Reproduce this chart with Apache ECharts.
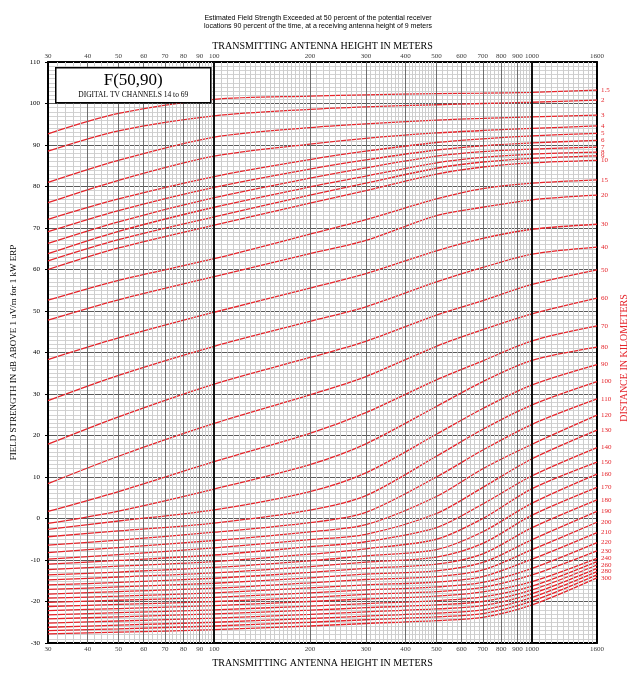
<!DOCTYPE html>
<html>
<head>
<meta charset="utf-8">
<script src="https://cdn.jsdelivr.net/npm/echarts@6.0.0/dist/echarts.min.js"></script>
<style>
  html, body { margin: 0; padding: 0; background: #fff; }
  #chart { width: 636px; height: 673px; }
</style>
</head>
<body>
<div id="chart"></div>
<script>
// antenna heights (m) where the curves were read
var heights = [30, 50, 100, 200, 300, 500, 700, 1000, 1600];
var xTickLabels = [30, 40, 50, 60, 70, 80, 90, 100, 200, 300, 400, 500, 600, 700, 800, 900, 1000, 1600];

// field strength (dB) per distance curve, one value per height
var km1_5 = [92.7, 97.6, 101.0, 101.8, 102.1, 102.4, 102.5, 102.7, 103.2];
var km2   = [88.5, 93.4, 97.0, 98.6, 99.2, 99.7, 100.0, 100.3, 100.8];
var km3   = [81.0, 86.3, 91.9, 94.2, 95.1, 96.0, 96.4, 96.8, 97.2];
var km4   = [76.1, 81.5, 87.3, 90.2, 91.6, 92.9, 93.5, 94.0, 94.6];
var km5   = [72.1, 77.0, 82.4, 86.5, 88.5, 90.6, 91.5, 92.2, 92.8];
var km6   = [69.1, 74.2, 79.8, 84.2, 86.4, 88.8, 89.8, 90.5, 91.1];
var km7   = [66.3, 71.5, 77.3, 82.0, 84.5, 87.3, 88.4, 89.0, 89.5];
var km8   = [63.8, 69.2, 75.0, 79.9, 82.5, 85.7, 87.0, 87.8, 88.3];
var km9   = [62.1, 67.2, 72.7, 77.9, 80.8, 84.4, 85.9, 86.8, 87.4];
var km10  = [60.0, 65.2, 70.7, 76.0, 79.0, 83.0, 84.7, 85.7, 86.3];
var km15  = [52.6, 57.4, 62.6, 68.5, 72.0, 77.0, 79.5, 80.8, 81.6];
var km20  = [47.8, 52.7, 58.3, 63.8, 67.0, 73.0, 75.0, 76.8, 77.9];
var km30  = [38.3, 43.5, 49.7, 55.5, 59.0, 64.5, 67.5, 69.7, 70.9];
var km40  = [28.4, 34.5, 41.5, 47.5, 51.0, 57.0, 60.5, 63.7, 65.4];
var km50  = [17.9, 24.5, 32.4, 38.8, 42.7, 49.0, 52.5, 56.4, 59.9];
var km60  = [8.4, 15.0, 22.9, 29.8, 34.2, 41.5, 45.5, 49.3, 53.1];
var km70  = [1.7, 6.5, 13.7, 20.5, 25.5, 33.4, 38.0, 42.8, 46.4];
var km80  = [-1.2, 1.8, 7.1, 13.0, 18.0, 27.0, 33.0, 38.1, 41.3];
var km90  = [-2.6, -0.6, 2.1, 6.5, 11.0, 20.3, 26.5, 32.2, 37.1];
var km100 = [-4.4, -3.0, -1.1, 2.0, 5.5, 15.0, 21.5, 27.4, 33.0];
var km110 = [-6.4, -5.2, -3.3, -1.0, 1.5, 10.0, 16.5, 22.7, 28.8];
var km120 = [-8.2, -7.0, -5.3, -3.2, -1.5, 5.3, 12.0, 17.9, 24.9];
var km130 = [-9.8, -8.7, -7.1, -5.1, -3.8, 1.2, 7.5, 14.4, 21.3];
var km140 = [-11.0, -10.1, -8.8, -6.8, -5.6, -2.2, 3.5, 10.3, 17.1];
var km150 = [-12.3, -11.5, -10.4, -8.6, -7.3, -5.0, 0.0, 7.2, 13.6];
var km160 = [-13.6, -12.9, -11.8, -10.2, -9.0, -7.5, -3.2, 3.7, 10.7];
var km170 = [-14.8, -14.1, -13.1, -11.6, -10.5, -9.3, -6.0, 0.8, 7.5];
var km180 = [-16.0, -15.4, -14.4, -13.0, -12.0, -11.0, -8.5, -2.2, 4.5];
var km190 = [-17.1, -16.5, -15.6, -14.3, -13.4, -12.6, -10.6, -5.1, 1.7];
var km200 = [-18.2, -17.6, -16.8, -15.5, -14.7, -14.0, -12.4, -7.5, -0.9];
var km210 = [-19.2, -18.7, -17.9, -16.7, -16.0, -15.3, -14.0, -9.8, -3.4];
var km220 = [-20.2, -19.7, -19.0, -17.9, -17.2, -16.5, -15.4, -12.0, -5.8];
var km230 = [-21.2, -20.7, -20.0, -19.0, -18.3, -17.6, -16.6, -13.6, -7.8];
var km240 = [-22.2, -21.7, -21.0, -20.0, -19.4, -18.7, -17.7, -15.2, -9.6];
var km250 = [-23.2, -22.7, -22.0, -21.1, -20.5, -19.8, -18.9, -16.3, -10.4];
var km260 = [-24.2, -23.7, -23.0, -22.1, -21.5, -20.8, -20.0, -17.2, -11.2];
var km270 = [-25.2, -24.7, -24.0, -23.1, -22.5, -21.8, -21.0, -18.1, -12.0];
var km280 = [-26.2, -25.7, -25.0, -24.1, -23.5, -22.8, -22.0, -19.0, -12.8];
var km290 = [-27.0, -26.6, -25.9, -25.0, -24.4, -23.7, -22.9, -19.9, -13.6];
var km300 = [-27.8, -27.4, -26.8, -25.9, -25.3, -24.6, -23.8, -20.8, -14.3];

var distances = ['1.5', '2', '3', '4', '5', '6', '7', '8', '9', '10', '15', '20', '30', '40', '50', '60',
    '70', '80', '90', '100', '110', '120', '130', '140', '150', '160', '170', '180', '190', '200',
    '210', '220', '230', '240', '250', '260', '270', '280', '290', '300'];
var curveValues = [km1_5, km2, km3, km4, km5, km6, km7, km8, km9, km10, km15, km20, km30, km40, km50, km60,
    km70, km80, km90, km100, km110, km120, km130, km140, km150, km160, km170, km180, km190, km200,
    km210, km220, km230, km240, km250, km260, km270, km280, km290, km300];
var unlabeled = ['250', '270', '290'];

var RED = '#e5252b';
var SERIF = '"Liberation Serif", "DejaVu Serif", serif';

function range(a, b, step) {
    var out = [];
    for (var v = a; v <= b + 1e-9; v += step) out.push(v);
    return out;
}

// vertical log-paper grid lines
var mediumLines = range(40, 90, 10).concat(range(200, 900, 100));
var majorLines = [100, 1000];
var minorLines = [].concat(range(32, 98, 2), range(105, 195, 5), range(210, 490, 10),
    range(520, 980, 20), range(1050, 1550, 50)).filter(function (v) {
    return mediumLines.indexOf(v) == -1;
});
var gridMarks = [];
minorLines.forEach(function (v) {
    gridMarks.push({xAxis: v, lineStyle: {color: '#cdcdcd', width: 1, type: 'solid'}});
});
mediumLines.forEach(function (v) {
    gridMarks.push({xAxis: v, lineStyle: {color: '#6e6e6e', width: 1, type: 'solid'}});
});
majorLines.forEach(function (v) {
    gridMarks.push({xAxis: v, lineStyle: {color: '#111', width: 2, type: 'solid'}});
});

var series = [];
series.push({
    type: 'line', name: 'grid', data: [[30, -30]], showSymbol: false, silent: true, z: 1,
    lineStyle: {width: 0},
    markLine: {
        silent: true, symbol: ['none', 'none'], animation: false,
        label: {show: false}, data: gridMarks
    }
});

for (var i = 0; i < distances.length; i++) {
    var vals = curveValues[i];
    var pData = [];
    for (var j = 0; j < heights.length; j++) {
        pData.push([heights[j], vals[j]]);
    }
    series.push({
        type: 'line', name: distances[i], data: pData, smooth: 0.3,
        showSymbol: false, silent: true, z: 3,
        lineStyle: {color: RED, width: 1.3},
        endLabel: {
            show: unlabeled.indexOf(distances[i]) == -1,
            formatter: '{a}', color: RED, fontSize: 7, fontFamily: SERIF, distance: 4
        }
    });
}

// tick labels along the bottom and top edges
series.push({
    type: 'scatter', name: 'bottomLabels', silent: true, symbolSize: 1, z: 4,
    itemStyle: {color: 'rgba(0,0,0,0)'},
    data: xTickLabels.map(function (v) { return [v, -30]; }),
    label: {
        show: true, position: 'bottom', distance: 2, color: '#000', fontSize: 7, fontFamily: SERIF,
        formatter: function (p) { return p.value[0]; }
    }
});
series.push({
    type: 'scatter', name: 'topLabels', silent: true, symbolSize: 1, z: 4,
    itemStyle: {color: 'rgba(0,0,0,0)'},
    data: xTickLabels.map(function (v) { return [v, 110]; }),
    label: {
        show: true, position: 'top', distance: 2, color: '#000', fontSize: 7, fontFamily: SERIF,
        formatter: function (p) { return p.value[0]; }
    }
});

var axisName = 'TRANSMITTING ANTENNA HEIGHT IN METERS';
var nameStyle = {color: '#000', fontSize: 10, fontFamily: SERIF};

var option = {
    animation: false,
    backgroundColor: '#fff',
    title: {
        text: 'Estimated Field Strength Exceeded at 50 percent of the potential receiver\nlocations 90 percent of the time, at a receiving antenna height of 9 meters',
        left: 'center', top: 9,
        textStyle: {fontSize: 7, fontWeight: 'normal', color: '#000', lineHeight: 8,
            fontFamily: '"Liberation Sans", Arial, sans-serif'}
    },
    grid: {left: 48, right: 39, top: 62, bottom: 21},
    xAxis: [
        {
            type: 'log', logBase: 10, min: 30, max: 1600, position: 'bottom',
            name: axisName, nameLocation: 'middle', nameGap: 15, nameTextStyle: nameStyle,
            axisLine: {show: true, onZero: false, lineStyle: {color: '#000', width: 2}},
            axisTick: {show: false}, axisLabel: {show: false}, splitLine: {show: false}
        },
        {
            type: 'log', logBase: 10, min: 30, max: 1600, position: 'top',
            name: axisName, nameLocation: 'middle', nameGap: 11, nameTextStyle: nameStyle,
            axisLine: {show: true, onZero: false, lineStyle: {color: '#000', width: 2}},
            axisTick: {show: false}, axisLabel: {show: false}, splitLine: {show: false}
        }
    ],
    yAxis: [
        {
            type: 'value', min: -30, max: 110, interval: 10, position: 'left',
            name: 'FIELD STRENGTH IN dB ABOVE 1 uV/m for 1 kW ERP',
            nameLocation: 'middle', nameGap: 26, nameRotate: 90,
            nameTextStyle: {color: '#000', fontSize: 9, fontFamily: SERIF},
            axisLine: {show: true, lineStyle: {color: '#000', width: 2}},
            axisTick: {show: true, length: 3, lineStyle: {color: '#000'}},
            axisLabel: {color: '#000', fontSize: 7, fontFamily: SERIF, margin: 8},
            splitLine: {show: true, lineStyle: {color: '#5a5a5a', width: 1}},
            minorTick: {show: false, splitNumber: 10},
            minorSplitLine: {show: true, lineStyle: {color: '#d2d2d2', width: 1}}
        },
        {
            type: 'value', min: -30, max: 110, interval: 10, position: 'right',
            axisLine: {show: true, lineStyle: {color: '#000', width: 2}},
            axisTick: {show: false}, axisLabel: {show: false}, splitLine: {show: false}
        }
    ],
    graphic: [
        {
            type: 'group', left: 55, top: 67, zlevel: 1, z: 100,
            children: [
                {type: 'rect', z: 100, shape: {x: 0, y: 0, width: 155, height: 35},
                    style: {fill: '#fff', stroke: '#000', lineWidth: 1.5}},
                {type: 'text', z: 101, x: 77.5, y: 13, style: {text: 'F(50,90)', fill: '#000',
                    font: '17px ' + SERIF, align: 'center', verticalAlign: 'middle'}},
                {type: 'text', z: 101, x: 77.5, y: 27, style: {text: 'DIGITAL TV CHANNELS 14 to 69', fill: '#000',
                    font: '7.5px ' + SERIF, align: 'center', verticalAlign: 'middle'}}
            ]
        },
        {
            type: 'text', x: 624, y: 358, rotation: Math.PI / 2, zlevel: 1, z: 100,
            style: {text: 'DISTANCE IN KILOMETERS', fill: RED, font: '10px ' + SERIF,
                align: 'center', verticalAlign: 'middle'}
        }
    ],
    series: series
};

var myChart = echarts.init(document.getElementById('chart'));
myChart.setOption(option);
</script>
</body>
</html>
